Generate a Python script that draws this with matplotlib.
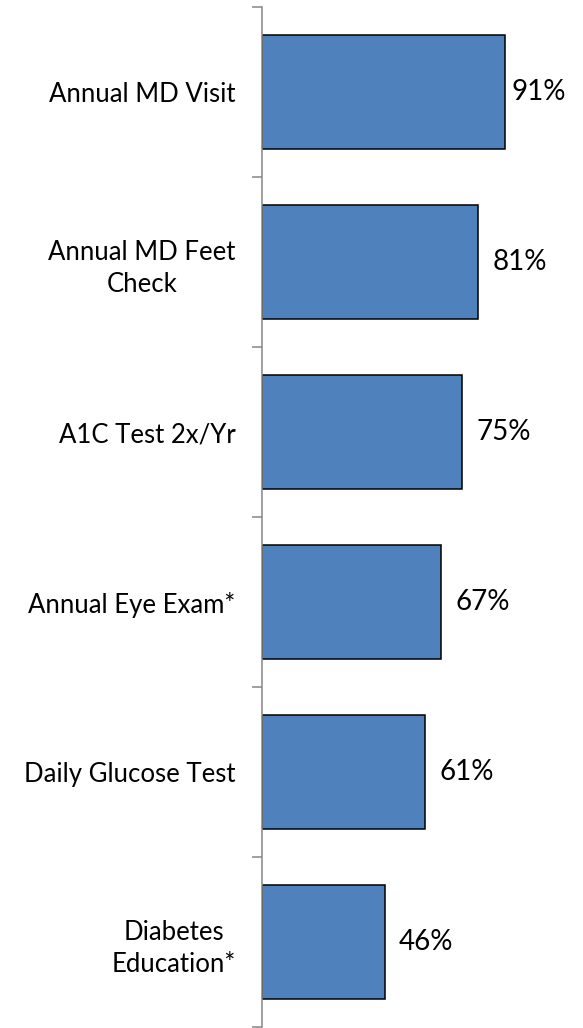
import matplotlib
matplotlib.use("Agg")
import matplotlib.pyplot as plt
import numpy as np

categories = ["Annual MD Visit", "Annual MD Feet\nCheck", "A1C Test 2x/Yr",
              "Annual Eye Exam*", "Daily Glucose Test", "Diabetes\nEducation*"]
values = [91, 81, 75, 67, 61, 46]
value_labels = ["91%", "81%", "75%", "67%", "61%", "46%"]

plt.rcParams['font.family'] = ['Lato', 'DejaVu Sans']

W, H = 583, 1028
fig = plt.figure(figsize=(W / 100, H / 100), dpi=100)
ax = fig.add_axes([262 / W, 1 / H, 267 / W, 1020 / H])

pos = np.arange(len(categories))
ax.barh(pos, values, height=0.67, color="#4F81BD", edgecolor="black", linewidth=1.1)

# value labels sit just right of each bar, kept inside the figure's right edge
for p, v, lab in zip(pos, values, value_labels):
    x = min(v + 5.3, 93.5)
    ax.text(x, p, lab, va="center", ha="left", fontsize=20, color="black")

ax.set_xlim(0, 100)
ax.set_ylim(len(categories) - 0.5, -0.5)

ax.set_yticks(pos)
ax.set_yticklabels(categories, fontsize=18.5, multialignment="center",
                   linespacing=1.4)
ax.tick_params(axis="y", which="major", length=0, pad=19)
ax.set_yticks(np.arange(-0.5, len(categories)), minor=True)
ax.tick_params(axis="y", which="minor", length=7.5, width=1.1, color="#868686")

ax.set_xticks([])
for s in ["top", "right", "bottom"]:
    ax.spines[s].set_visible(False)
ax.spines["left"].set_color("#868686")
ax.spines["left"].set_linewidth(1.1)

fig.savefig("out.png", dpi=100)
